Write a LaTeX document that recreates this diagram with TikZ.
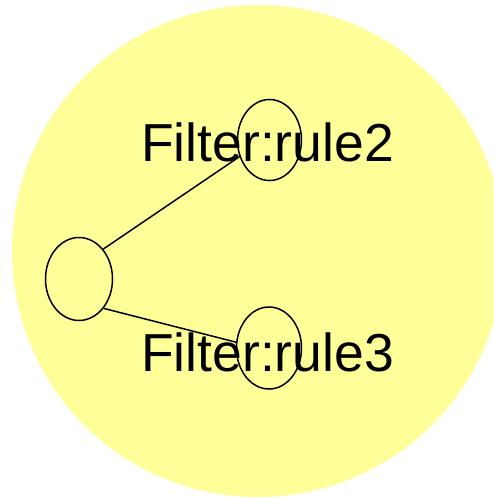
\documentclass[tikz,border=0pt]{standalone}
\usepackage{fontspec}
\setmainfont{Liberation Sans}
\usetikzlibrary{shapes.geometric}
\definecolor{paleyellow}{HTML}{FFFF99}
\tikzset{
  oval/.style={ellipse, draw=black, line width=1.5pt, inner sep=0pt},
  link/.style={draw=black, line width=1.5pt},
  rulelabel/.style={font=\fontsize{53.5}{60}\selectfont, inner sep=0pt, anchor=base}
}
\begin{document}
\begin{tikzpicture}[x=1pt, y=-1pt]
  \clip (0,0) rectangle (493,498);
  \fill[white] (0,0) rectangle (493,498);
  % enclosing yellow region
  \fill[paleyellow] (258,251) circle[radius=246];
  % nodes
  \node[oval, minimum width=67pt, minimum height=83pt] (root) at (79,279) {};
  \node[oval, minimum width=64pt, minimum height=81pt] (r2) at (269.5,140) {};
  \node[oval, minimum width=65pt, minimum height=82pt] (r3) at (269,348) {};
  % connectors
  \draw[link] (root.51) -- (r2.209);
  \draw[link] (root.-50) -- (r3.170);
  % labels
  \node[rulelabel] (r2text) at (267.5,161.7) {Filter:rule2};
  \node[rulelabel] (r3text) at (267.5,371.7) {Filter:rule3};
\end{tikzpicture}
\end{document}
